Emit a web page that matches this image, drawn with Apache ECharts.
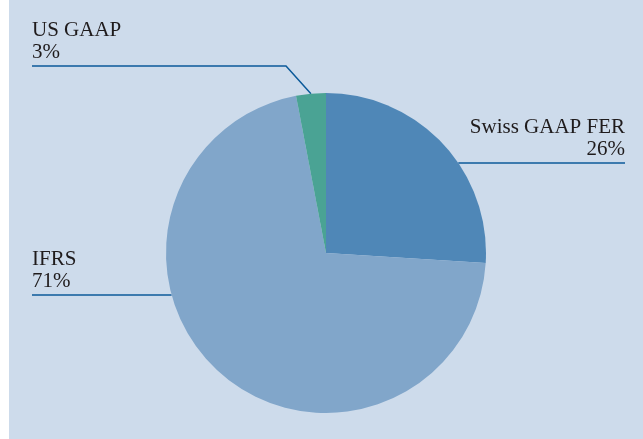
<!DOCTYPE html>
<html>
<head>
<meta charset="utf-8">
<script src="https://cdn.jsdelivr.net/npm/echarts@6/dist/echarts.min.js"></script>
<style>
  html, body { margin: 0; padding: 0; background: #ffffff; }
  #chart { width: 643px; height: 439px; }
</style>
</head>
<body>
<div id="chart"></div>
<script>
// data
var categories = ['Swiss GAAP FER', 'IFRS', 'US GAAP'];
var shares = [26, 71, 3];
var colors = ['#4f87b7', '#81a6ca', '#4aa394'];

// label placement (layout only)
var cx = 326, cy = 253, r = 160;
var labelSpots = [
  { lineY: 163, endX: 625, align: 'right', elbow: false },
  { lineY: 295, endX: 32, align: 'left', elbow: false },
  { lineY: 66, endX: 32, align: 'left', elbow: true, elbowX: 286 }
];

var chart = echarts.init(document.getElementById('chart'));

var pieData = categories.map(function (name, i) {
  return { name: name, value: shares[i], itemStyle: { color: colors[i] } };
});

chart.setOption({
  animation: false,
  graphic: [{
    type: 'rect',
    shape: { x: 9, y: 0, width: 634, height: 439 },
    style: { fill: '#cddbeb' },
    z: -10
  }],
  series: [{
    type: 'pie',
    center: [cx, cy],
    radius: r,
    startAngle: 90,
    clockwise: true,
    data: pieData,
    itemStyle: { borderWidth: 0 },
    label: {
      show: true,
      formatter: function (p) { return p.name + '\n' + p.value + '%'; },
      fontFamily: 'Liberation Serif',
      fontSize: 21,
      lineHeight: 22,
      color: '#1f1b1c',
      overflow: 'none'
    },
    labelLine: {
      show: true,
      lineStyle: { color: '#0b5a9a', width: 1.5 }
    },
    labelLayout: function (params) {
      var s = labelSpots[params.dataIndex];
      var pts;
      if (s.elbow) {
        pts = [params.labelLinePoints[0], [s.elbowX, s.lineY], [s.endX, s.lineY]];
      } else {
        var dx = Math.sqrt(r * r - (s.lineY - cy) * (s.lineY - cy));
        var sx = s.align === 'right' ? cx + dx : cx - dx;
        pts = [[sx, s.lineY], [sx, s.lineY], [s.endX, s.lineY]];
      }
      return {
        x: s.endX,
        y: s.lineY - 3,
        align: s.align,
        verticalAlign: 'bottom',
        width: 200,
        labelLinePoints: pts
      };
    }
  }]
});
</script>
</body>
</html>
